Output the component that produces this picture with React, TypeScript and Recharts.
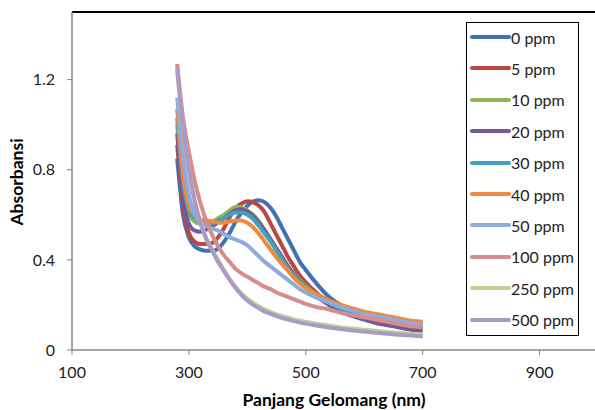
import React from "react";
import { LineChart, Line, XAxis, YAxis, ReferenceLine, Label } from "recharts";

// wavelength (nm)
const wavelength = [
  280, 290, 300, 310, 320, 330, 340, 350, 360, 370, 380, 390, 400, 410, 420, 430, 440,
  450, 460, 470, 480, 490, 500, 520, 540, 560, 580, 600, 620, 640, 660, 680, 700,
];

const ppm0 = [
  0.85, 0.6, 0.5, 0.46, 0.445, 0.44, 0.44, 0.45, 0.48, 0.52, 0.57, 0.61, 0.64, 0.66, 0.665,
  0.655, 0.63, 0.59, 0.54, 0.49, 0.44, 0.39, 0.355, 0.29, 0.235, 0.2, 0.18, 0.165, 0.155,
  0.145, 0.135, 0.125, 0.115,
];
const ppm5 = [
  0.91, 0.64, 0.52, 0.48, 0.47, 0.47, 0.475, 0.5, 0.54, 0.59, 0.63, 0.65, 0.66, 0.655,
  0.64, 0.61, 0.56, 0.51, 0.46, 0.41, 0.37, 0.33, 0.3, 0.25, 0.21, 0.18, 0.16, 0.145,
  0.135, 0.125, 0.115, 0.105, 0.1,
];
const ppm10 = [
  1.0, 0.72, 0.6, 0.57, 0.56, 0.56, 0.57, 0.585, 0.6, 0.62, 0.635, 0.635, 0.62, 0.6, 0.57,
  0.53, 0.49, 0.45, 0.41, 0.37, 0.34, 0.31, 0.285, 0.24, 0.21, 0.18, 0.16, 0.145, 0.135,
  0.125, 0.115, 0.11, 0.1,
];
const ppm20 = [
  0.96, 0.68, 0.56, 0.53, 0.525, 0.535, 0.55, 0.565, 0.585, 0.605, 0.62, 0.625, 0.615,
  0.595, 0.565, 0.53, 0.49, 0.45, 0.41, 0.37, 0.335, 0.305, 0.28, 0.235, 0.2, 0.17, 0.15,
  0.135, 0.12, 0.11, 0.1, 0.09, 0.085,
];
const ppm30 = [
  1.03, 0.75, 0.62, 0.585, 0.57, 0.565, 0.565, 0.575, 0.585, 0.6, 0.61, 0.61, 0.6, 0.58,
  0.55, 0.515, 0.48, 0.44, 0.4, 0.36, 0.33, 0.3, 0.28, 0.24, 0.21, 0.185, 0.165, 0.15,
  0.14, 0.13, 0.12, 0.115, 0.11,
];
const ppm40 = [
  1.07, 0.78, 0.64, 0.6, 0.58, 0.575, 0.57, 0.565, 0.565, 0.57, 0.575, 0.575, 0.565,
  0.545, 0.515, 0.48, 0.445, 0.41, 0.38, 0.35, 0.32, 0.295, 0.275, 0.245, 0.22, 0.2,
  0.185, 0.17, 0.16, 0.15, 0.14, 0.13, 0.125,
];
const ppm50 = [
  1.12, 0.86, 0.69, 0.6, 0.565, 0.55, 0.54, 0.53, 0.515, 0.5, 0.49, 0.48, 0.465, 0.44,
  0.415, 0.39, 0.37, 0.35, 0.33, 0.31, 0.29, 0.27, 0.255, 0.23, 0.21, 0.19, 0.175, 0.16,
  0.15, 0.14, 0.13, 0.12, 0.11,
];
const ppm100 = [
  1.27, 1.03, 0.88, 0.75, 0.65, 0.57, 0.51, 0.46, 0.42, 0.39, 0.36, 0.34, 0.325, 0.31,
  0.295, 0.28, 0.27, 0.255, 0.245, 0.235, 0.225, 0.215, 0.205, 0.19, 0.18, 0.165, 0.155,
  0.145, 0.135, 0.125, 0.115, 0.105, 0.1,
];
const ppm250 = [
  1.24, 0.98, 0.8, 0.665, 0.565, 0.495, 0.445, 0.4, 0.355, 0.315, 0.28, 0.25, 0.228, 0.21,
  0.193, 0.18, 0.168, 0.158, 0.15, 0.143, 0.136, 0.13, 0.125, 0.116, 0.108, 0.1, 0.095,
  0.09, 0.085, 0.08, 0.076, 0.072, 0.068,
];
const ppm500 = [
  1.25, 0.99, 0.8, 0.66, 0.56, 0.49, 0.44, 0.39, 0.35, 0.31, 0.275, 0.245, 0.22, 0.2,
  0.185, 0.17, 0.16, 0.15, 0.142, 0.135, 0.128, 0.122, 0.117, 0.108, 0.1, 0.093, 0.087,
  0.082, 0.077, 0.072, 0.068, 0.064, 0.06,
];

const seriesNames = [
  "0 ppm", "5 ppm", "10 ppm", "20 ppm", "30 ppm",
  "40 ppm", "50 ppm", "100 ppm", "250 ppm", "500 ppm",
];
const seriesValues = [ppm0, ppm5, ppm10, ppm20, ppm30, ppm40, ppm50, ppm100, ppm250, ppm500];
const seriesColors = [
  "#4272B0", "#BA4744", "#91B552", "#76599C", "#40A2BE",
  "#EF8A3C", "#8EACDB", "#D68D8B", "#BBD495", "#AB9AC6",
];

const xTicks = [100, 300, 500, 700, 900];
const yTicks = [0, 0.4, 0.8, 1.2];

const font = "Lato, 'Open Sans', sans-serif";
const textColor = "#222";

const data = wavelength.map((nm, i) => {
  const row: Record<string, number> = { nm };
  seriesNames.forEach((name, s) => {
    row[name] = seriesValues[s][i];
  });
  return row;
});

function ChartLegend() {
  return (
    <div
      style={{
        position: "absolute",
        left: 466,
        top: 22,
        width: 111,
        height: 312,
        border: "1.5px solid #000",
        background: "#fff",
        fontFamily: font,
        fontSize: 16,
        color: textColor,
      }}
    >
      {seriesNames.map((name, i) => (
        <div
          key={name}
          style={{
            position: "absolute",
            left: 0,
            top: 2 + i * 31.4,
            height: 24,
            display: "flex",
            alignItems: "center",
            whiteSpace: "nowrap",
          }}
        >
          <svg width={42} height={8} style={{ marginLeft: 2 }}>
            <line x1={3} y1={4} x2={40} y2={4} stroke={seriesColors[i]} strokeWidth={4} strokeLinecap="round" />
          </svg>
          <span>{name}</span>
        </div>
      ))}
    </div>
  );
}

export default function App() {
  return (
    <div style={{ position: "absolute", left: 0, top: 0, width: 595, height: 410, overflow: "hidden", background: "#fff" }}>
      <LineChart width={600} height={410} data={data} margin={{ top: 12, right: 2, bottom: 0, left: 0 }}>
        <XAxis
          dataKey="nm"
          type="number"
          domain={[100, 1000]}
          ticks={xTicks}
          height={60}
          axisLine={{ stroke: "#868686", strokeWidth: 1.5 }}
          tickLine={{ stroke: "#868686" }}
          tickSize={5}
          tick={{ fill: textColor, fontSize: 16, fontFamily: font }}
          tickMargin={12}
        >
          <Label
            content={() => (
              <text x={334} y={406} textAnchor="middle" fontFamily={font} fontSize={17.5} fontWeight="bold" fill="#000">
                Panjang Gelomang (nm)
              </text>
            )}
          />
        </XAxis>
        <YAxis
          type="number"
          domain={[0, 1.5]}
          ticks={yTicks}
          width={72}
          axisLine={{ stroke: "#868686", strokeWidth: 1.5 }}
          tickLine={{ stroke: "#868686" }}
          tickSize={5}
          tickMargin={12}
          tick={{ fill: textColor, fontSize: 16, fontFamily: font }}
          tickFormatter={(v: number) => (v === 0 ? "0" : v.toFixed(1))}
        >
          <Label
            content={() => (
              <text
                x={23}
                y={182}
                textAnchor="middle"
                fontFamily={font}
                fontSize={17.5}
                fontWeight="bold"
                fill="#000"
                transform="rotate(-90 23 182)"
              >
                Absorbansi
              </text>
            )}
          />
        </YAxis>
        <ReferenceLine y={1.5} stroke="#000" strokeWidth={2} />
        {seriesNames.map((name, i) => (
          <Line
            key={name}
            type="monotone"
            dataKey={name}
            stroke={seriesColors[i]}
            strokeWidth={4}
            dot={false}
            isAnimationActive={false}
          />
        ))}
      </LineChart>
      <ChartLegend />
    </div>
  );
}
